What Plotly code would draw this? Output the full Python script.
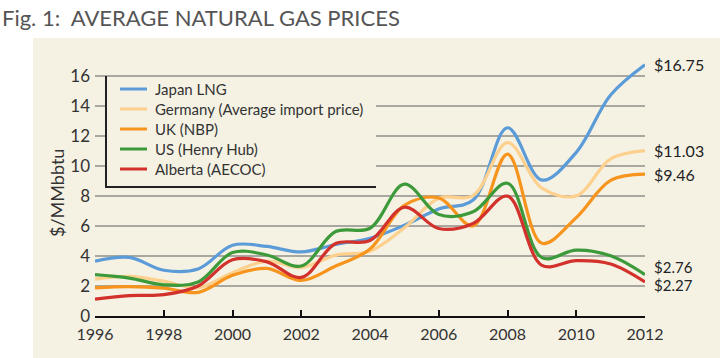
import plotly.graph_objects as go

years = list(range(1996, 2013))
japan_lng = [3.66, 3.91, 3.05, 3.14, 4.72, 4.64, 4.27, 4.77, 5.18, 6.05, 7.14, 7.73, 12.55, 9.06, 10.91, 14.73, 16.75]
germany = [2.46, 2.64, 2.32, 1.88, 2.89, 3.66, 3.23, 4.06, 4.32, 5.88, 7.85, 8.03, 11.56, 8.52, 8.01, 10.48, 11.03]
uk_nbp = [1.87, 1.96, 1.86, 1.58, 2.71, 3.17, 2.37, 3.33, 4.46, 7.38, 7.87, 6.01, 10.79, 4.85, 6.56, 9.04, 9.46]
us_henry_hub = [2.76, 2.53, 2.08, 2.27, 4.23, 4.07, 3.33, 5.63, 5.85, 8.79, 6.76, 6.95, 8.85, 3.89, 4.39, 4.01, 2.76]
alberta = [1.12, 1.36, 1.42, 2.00, 3.75, 3.61, 2.57, 4.83, 5.03, 7.25, 5.83, 6.17, 7.99, 3.38, 3.69, 3.47, 2.27]

series_names = ["Japan LNG", "Germany (Average import price)", "UK (NBP)", "US (Henry Hub)", "Alberta (AECOC)"]
series_values = [japan_lng, germany, uk_nbp, us_henry_hub, alberta]
series_colors = ["#5b9bd8", "#fdd08e", "#f7941d", "#3d9a3a", "#d2312c"]
end_label_shift = [0, 0, 0, 8, -3]
end_label_size = [16, 16, 16, 15, 15]

x_ticks = list(range(1996, 2013, 2))
y_ticks = list(range(0, 17, 2))

FONT = "Lato"
cream = "#f5f2e4"

# pixel helpers (plot area: x 95..645, y 316..52)
L, R, T, B = 95, 75, 52, 42
W, H = 720 - L - R, 358 - T - B
def px(x):
    return (x - L) / W
def py(y):
    return (358 - B - y) / H

fig = go.Figure()
for name, vals, col in zip(series_names, series_values, series_colors):
    fig.add_trace(go.Scatter(x=years, y=vals, name=name, mode="lines", showlegend=False,
                             line=dict(color=col, width=3.2, shape="spline", smoothing=1.0)))

shapes = [
    dict(type="rect", xref="paper", yref="paper", x0=px(33), x1=px(720), y0=py(358), y1=py(38),
         fillcolor=cream, line=dict(width=0), layer="below"),
    dict(type="rect", xref="paper", yref="paper", x0=px(106), x1=px(376), y0=py(187), y1=py(77),
         fillcolor=cream, line=dict(width=0), layer="above"),
    dict(type="line", xref="paper", yref="paper", x0=px(106), x1=px(106), y0=py(188), y1=py(76),
         line=dict(color="#222", width=2), layer="above"),
    dict(type="line", xref="paper", yref="paper", x0=px(105), x1=px(376), y0=py(187), y1=py(187),
         line=dict(color="#222", width=2), layer="above"),
]

annotations = [
    dict(text="Fig. 1:  AVERAGE NATURAL GAS PRICES", xref="paper", yref="paper",
         x=px(0), y=py(18), xanchor="left", yanchor="middle", showarrow=False,
         font=dict(family=FONT, size=22, color="#555")),
    dict(text="$/MMbbtu", xref="paper", yref="paper", x=px(57), y=py(193), textangle=-90,
         xanchor="center", yanchor="middle", showarrow=False,
         font=dict(family=FONT, size=18, color="#333")),
]

# legend (drawn manually to match the compact spacing)
for i, (name, col) in enumerate(zip(series_names, series_colors)):
    ly = 89 + 20 * i
    shapes.append(dict(type="line", xref="paper", yref="paper", x0=px(120), x1=px(147),
                       y0=py(ly), y1=py(ly), line=dict(color=col, width=3), layer="above"))
    annotations.append(dict(text=name, xref="paper", yref="paper", x=px(153), y=py(ly),
                            xanchor="left", yanchor="middle", showarrow=False,
                            font=dict(family=FONT, size=15, color="#333")))

for vals, sh, fs in zip(series_values, end_label_shift, end_label_size):
    annotations.append(dict(text=f"${vals[-1]:.2f}", xref="paper", yref="y", x=px(652), y=vals[-1],
                            xanchor="left", yanchor="middle", yshift=sh, showarrow=False,
                            font=dict(family=FONT, size=fs, color="#222")))

fig.update_layout(
    width=720, height=358,
    margin=dict(l=L, r=R, t=T, b=B),
    paper_bgcolor="white", plot_bgcolor=cream,
    font=dict(family=FONT, size=16, color="#333"),
    showlegend=False,
    shapes=shapes,
    annotations=annotations,
    xaxis=dict(range=[1996, 2012], tickvals=x_ticks, showgrid=False, zeroline=False,
               showline=True, linecolor="#111", linewidth=2, ticks="inside", ticklen=6,
               tickcolor="#111", tickwidth=2, ticklabelstandoff=3,
               tickfont=dict(family=FONT, size=16, color="#333")),
    yaxis=dict(range=[0, 17.6], tickvals=y_ticks, showgrid=True, gridcolor="#a9a8a0", gridwidth=1.5,
               zeroline=False, showline=False, ticks="", ticklabelstandoff=4,
               tickfont=dict(family=FONT, size=17, color="#333")),
)

fig.write_html("out.html", config={"displayModeBar": False},
               post_script="document.body.style.margin='0';")
